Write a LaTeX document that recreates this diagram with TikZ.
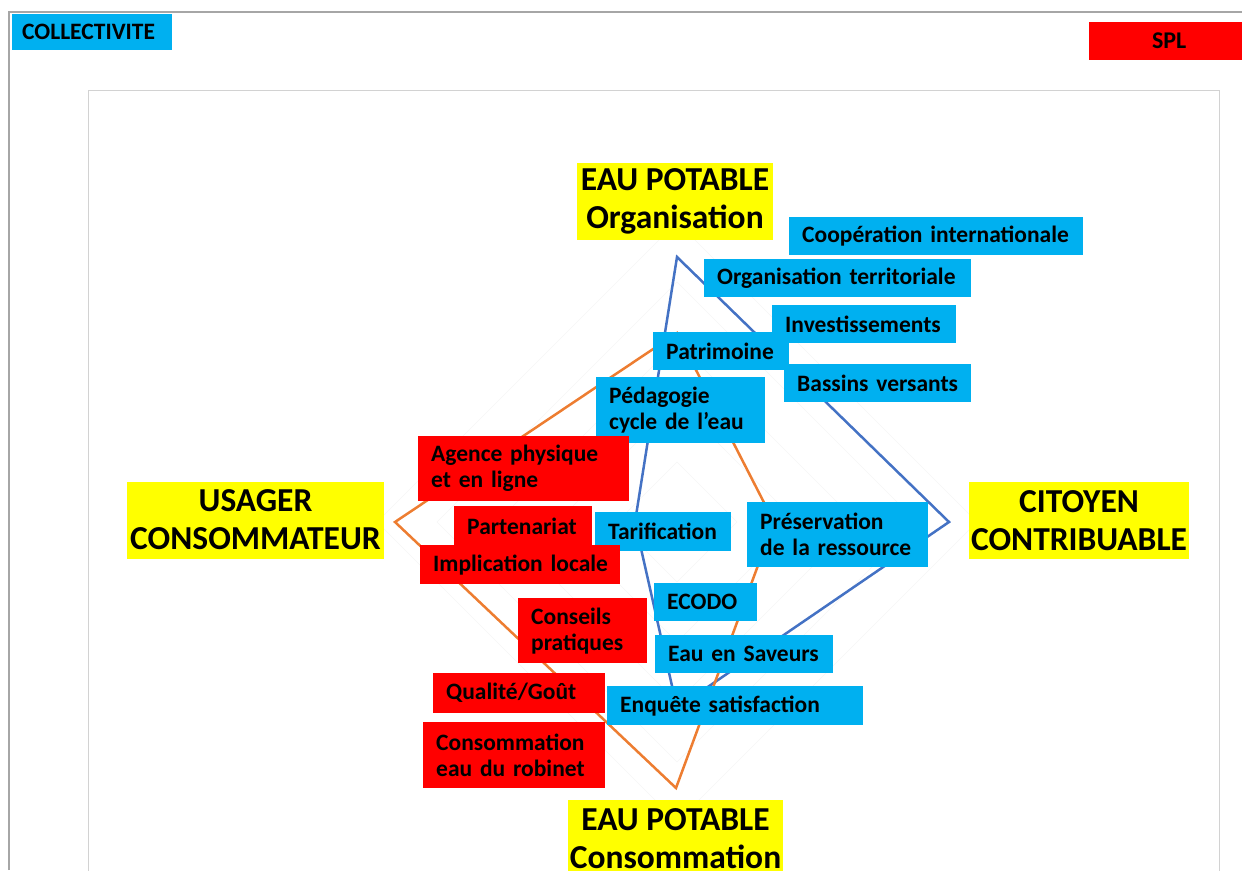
\documentclass[tikz,border=0pt]{standalone}
\usepackage{fontspec}
\setmainfont{Carlito}
\definecolor{boxblue}{HTML}{00B0F0}
\definecolor{boxred}{HTML}{FF0000}
\definecolor{boxyellow}{HTML}{FFFF00}
\definecolor{lineblue}{HTML}{4472C4}
\definecolor{lineorange}{HTML}{ED7D31}
\tikzset{
  tag/.style={anchor=north west, inner xsep=13pt, inner ysep=0pt, minimum height=38pt,
    align=left, text=black, font=\bfseries\fontsize{23.5}{26}\selectfont,
    execute at begin node={\hyphenpenalty=10000\relax}},
  bluetag/.style={tag, fill=boxblue},
  redtag/.style={tag, fill=boxred},
  pole/.style={fill=boxyellow, align=center, inner sep=0pt, minimum height=77pt,
    font=\bfseries\fontsize{33.5}{38}\selectfont},
  spider/.style={line width=2.5pt, line join=miter}
}
\begin{document}
\begin{tikzpicture}[x=1pt,y=-1pt]
  \useasboundingbox (0,0) rectangle (1242,870);
  \clip (0,0) rectangle (1242,870);

  % frames
  \draw[gray!70, line width=2pt] (9,870) -- (9,12) -- (1242,12);
  \draw[gray!35, line width=1pt] (88,90) rectangle (1219,900);

  % legend
  \node[tag, fill=boxblue, minimum height=36pt, minimum width=160pt, inner xsep=10pt,
    text width=140pt] (collect) at (12,14) {COLLECTIVITE};
  \node[tag, fill=boxred, minimum width=160pt, align=center, inner xsep=0pt,
    font=\bfseries\fontsize{24}{26}\selectfont] (spl) at (1089,22) {SPL};

  % radar grid
  \coordinate (ctr) at (677,522);
  \foreach \r in {60,120,...,300}
    \draw[gray!8] (677,{522-\r}) -- ({677+\r},522) -- (677,{522+\r}) -- ({677-\r},522) -- cycle;

  % Collectivite profile
  \coordinate (bTop) at (677,257);
  \coordinate (bRight) at (949,522);
  \coordinate (bBottom) at (677,708);
  \coordinate (bLeft) at (635,522);
  \draw[spider, lineblue] (bTop) -- (bRight) -- (bBottom) -- (bLeft) -- cycle;

  % SPL profile
  \coordinate (oTop) at (677,333);
  \coordinate (oRight) at (774,522);
  \coordinate (oBottom) at (676,788);
  \coordinate (oLeft) at (395,522);
  \draw[spider, lineorange] (oTop) -- (oRight) -- (oBottom) -- (oLeft) -- cycle;

  % poles
  \node[pole, minimum width=196pt] (orga) at (675,201.5) {EAU~POTABLE\\Organisation};
  \node[pole, minimum width=257pt] (usager) at (255.5,520) {USAGER\\CONSOMMATEUR};
  \node[pole, minimum width=220pt] (citoyen) at (1079,520.5) {CITOYEN\\CONTRIBUABLE};
  \node[pole, minimum width=215pt] (conso) at (675.5,838.5) {EAU~POTABLE\\Consommation};

  % Collectivite actions
  \node[bluetag, text width=268pt] (coop) at (789,217) {Coopération~internationale};
  \node[bluetag, text width=241pt] (orgterr) at (704,259) {Organisation~territoriale};
  \node[bluetag, text width=158pt] (invest) at (772,305) {Investissements};
  \node[bluetag, text width=110pt] (patri) at (653,332) {Patrimoine};
  \node[bluetag, text width=161pt] (bassins) at (784,364) {Bassins~versants};
  \node[bluetag, text width=143pt, minimum height=66pt] (peda) at (596,377) {Pédagogie\\cycle~de~l’eau};
  \node[bluetag, text width=110pt, minimum height=39pt] (tarif) at (595,512) {Tarification};
  \node[bluetag, text width=155pt, minimum height=65pt] (preserv) at (747,502) {Préservation\\de~la~ressource};
  \node[bluetag, text width=77pt] (ecodo) at (654,583) {ECODO};
  \node[bluetag, text width=152pt] (saveurs) at (655,635) {Eau~en~Saveurs};
  \node[bluetag, text width=230pt, minimum height=39pt] (enquete) at (607,686) {Enquête~satisfaction};

  % SPL actions
  \node[redtag, text width=185pt, minimum height=65pt] (agence) at (418,436) {Agence~physique\\et~en~ligne};
  \node[redtag, text width=112pt, minimum height=40pt] (parten) at (454,506) {Partenariat};
  \node[redtag, text width=174pt, minimum height=39pt] (implic) at (420,545) {Implication~locale};
  \node[redtag, text width=103pt, minimum height=65pt] (conseils) at (518,598) {Conseils\\pratiques};
  \node[redtag, text width=146pt, minimum height=40pt] (qualite) at (433,673) {Qualité/Goût};
  \node[redtag, text width=156pt, minimum height=66pt] (robinet) at (423,722) {Consommation\\eau~du~robinet};
\end{tikzpicture}
\end{document}
